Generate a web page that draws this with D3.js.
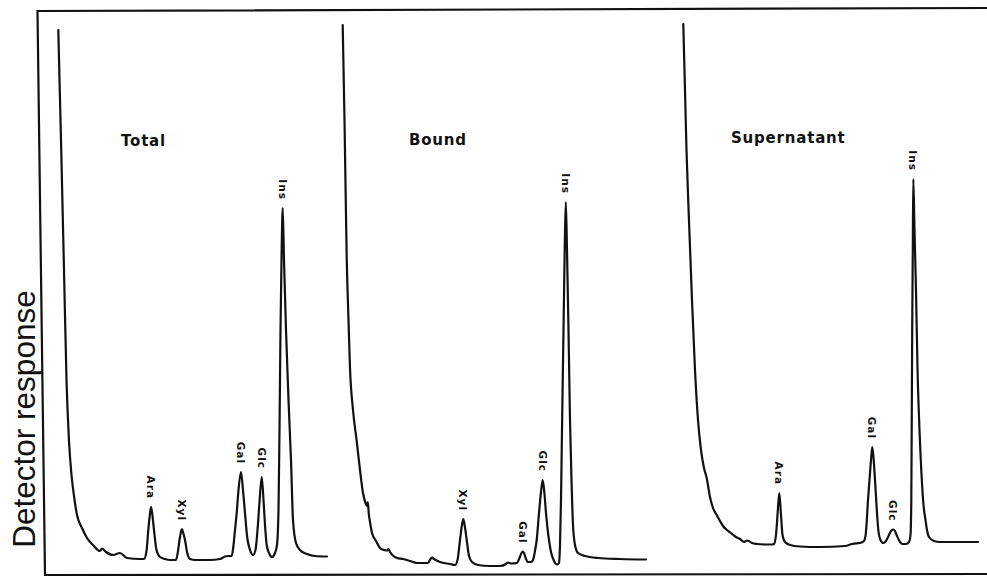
<!DOCTYPE html>
<html>
<head>
<meta charset="utf-8">
<script src="https://cdn.jsdelivr.net/npm/d3@7/dist/d3.min.js"></script>
<style>
  html, body { margin: 0; padding: 0; background: #fff; }
  svg { display: block; }
</style>
</head>
<body>
<div id="chart"></div>
<script>
// ---------- DATA (retention time in min, detector response in arbitrary units) ----------
const panelNames = ["Total", "Bound", "Supernatant"];

const totalTrace = [
  [0.03,109],[0.3,87],[0.6,61],[0.85,39],[1.1,26.8],[1.35,20],[1.6,15.8],[1.9,12],[2.4,9.4],[2.9,7.4],
  [3.5,6],[4.2,4.8],[4.4,5.3],[4.8,4.6],[5.5,4],[6.2,4.4],[6.9,3.4],[8.2,3.2],[8.6,3.2],[8.85,4.8],
  [9.03,9],[9.22,12.6],[9.3,13.6],[9.4,12.6],[9.6,9],[9.85,5],[10.2,3.6],[10.7,3.2],[11.2,3],[11.8,3],
  [12.0,4.8],[12.15,7],[12.3,8.6],[12.4,9.2],[12.5,8.6],[12.7,7],[12.9,4.6],[13.2,3.2],[13.7,3],[15.2,3],
  [16.2,3.2],[16.7,3.7],[17.0,3.8],[17.37,3.8],[17.53,5.6],[17.7,9],[17.87,12.4],[18.05,17],[18.3,20.6],
  [18.5,17],[18.7,12.4],[18.93,7.4],[19.2,5],[19.5,4],[19.75,5],[19.95,9],[20.13,14],[20.37,19.6],
  [20.55,15],[20.7,10],[20.87,6],[21.1,4.4],[21.4,3.6],[21.7,4.4],[21.9,6],[22.05,13],[22.15,29],
  [22.25,49],[22.35,63],[22.47,73.4],[22.6,63],[22.8,49],[23.05,35],[23.3,23],[23.5,11],[23.8,6.4],
  [24.2,5],[24.9,4.2],[25.7,3.8],[26.9,3.7]
];

const boundTrace = [
  [0.07,110],[0.25,91],[0.47,63.6],[0.65,51],[0.8,41.4],[1.1,33],[1.47,26.8],[1.8,21],[2.1,16.4],
  [2.35,14.4],[2.5,13.8],[2.58,14.6],[2.68,12.2],[2.8,10.6],[3.0,8.4],[3.4,6.8],[3.8,5.4],[4.2,5],
  [4.5,4.9],[4.65,5.2],[4.8,4.6],[5.5,3.4],[6.1,3.2],[6.8,2.8],[7.5,2.4],[8.6,2.4],[8.85,3.2],[9.0,3.5],
  [9.2,3.2],[9.8,2.6],[10.8,2.2],[11.3,2],[11.55,3],[11.8,7],[11.98,9.8],[12.13,11.2],[12.28,9.8],
  [12.47,7],[12.7,3.8],[13.0,2.6],[13.6,2],[14.8,1.8],[15.8,1.8],[16.4,2.2],[16.6,2.5],[16.9,2.3],
  [17.5,2.4],[17.75,3.4],[17.95,4.4],[18.07,4.7],[18.2,4.4],[18.4,3.2],[18.6,2.6],[18.9,2.6],[19.1,3],
  [19.3,4.8],[19.47,7],[19.7,12.4],[19.9,16.6],[20.07,19],[20.23,16.6],[20.4,12.4],[20.63,8],[20.9,4.6],
  [21.2,2.8],[21.5,2.1],[21.7,2.4],[21.8,6],[21.9,15],[22.0,29],[22.15,49],[22.27,65],[22.38,74.6],
  [22.5,65],[22.65,49],[22.8,31],[22.95,19],[23.1,10],[23.3,6],[23.6,4.4],[24.3,3.8],[25.6,3.4],
  [27.8,3.2],[30.4,3.1]
];

const supernatantTrace = [
  [0.03,110.2],[0.2,97],[0.35,85],[0.6,70.8],[0.9,55],[1.2,41],[1.5,31],[1.8,25],[2.1,21.4],[2.37,19.4],
  [2.7,15.6],[3.0,13.4],[3.37,12],[3.7,10.8],[4.0,9.8],[4.4,9],[4.87,8.26],[5.3,7.6],[5.7,7.2],[6.1,6.6],
  [6.4,6.9],[6.6,6.8],[6.9,6.4],[7.4,6.2],[8.2,6.1],[8.9,6.1],[9.1,6.2],[9.3,8],[9.45,12],[9.63,16.4],
  [9.8,12],[9.95,8],[10.2,6.6],[10.7,6],[11.7,5.7],[13.7,5.6],[16.2,5.8],[16.9,6.2],[17.37,6.34],
  [17.7,6.4],[18.1,6.8],[18.25,7.8],[18.35,10],[18.5,15],[18.65,19],[18.8,23],[18.93,25.6],[19.07,23],
  [19.2,19],[19.35,14],[19.53,9],[19.75,7],[20.03,6.4],[20.3,6.8],[20.6,8],[20.8,8.8],[21.0,9.1],
  [21.2,8.8],[21.4,7.8],[21.7,6.6],[21.95,6.2],[22.3,6.2],[22.6,6.6],[22.75,8],[22.83,15],[22.87,29],
  [22.92,49],[22.98,65],[23.03,79.2],[23.15,69],[23.3,57],[23.45,41.4],[23.65,29],[23.87,19.4],
  [24.05,14],[24.25,11],[24.4,9],[24.6,7.6],[25.1,6.8],[25.7,6.6],[27.2,6.6],[29.5,6.6]
];

// peak labels: [name, retention time, apex response]
const totalPeaks = [["Ara",9.3,13.6],["Xyl",12.4,9.2],["Gal",18.3,20.6],["Glc",20.37,19.6],["Ins",22.47,73.4]];
const boundPeaks = [["Xyl",12.13,11.2],["Gal",18.07,4.7],["Glc",20.07,19],["Ins",22.38,74.6]];
const supernatantPeaks = [["Ara",9.63,16.4],["Gal",18.93,25.6],["Glc",21.0,9.1],["Ins",23.03,79.2]];

const yAxisLabel = "Detector response";

// ---------- LAYOUT ----------
const W = 987, H = 577;
const panelRanges = [[58, 358], [342, 642], [683, 983]];
const titlePos = [[121, 146], [409, 145], [731, 143]];
const traces = [totalTrace, boundTrace, supernatantTrace];
const peaks = [totalPeaks, boundPeaks, supernatantPeaks];

const svg = d3.select("#chart").append("svg")
  .attr("width", W).attr("height", H)
  .attr("viewBox", `0 0 ${W} ${H}`);

const y = d3.scaleLinear().domain([0, 110]).range([575, 25]);

// frame (open on the right), slightly skewed like the scan
const frame = d3.path();
frame.moveTo(987, 8);
frame.lineTo(37.5, 11);
frame.lineTo(45, 575);
frame.lineTo(987, 574);
svg.append("path").attr("d", frame.toString())
  .attr("fill", "none").attr("stroke", "#111").attr("stroke-width", 2.2);

const line = d3.line().curve(d3.curveMonotoneX);

panelNames.forEach((name, i) => {
  const x = d3.scaleLinear().domain([0, 30]).range(panelRanges[i]);
  const g = svg.append("g");
  g.append("path")
    .datum(traces[i])
    .attr("d", line.x(d => x(d[0])).y(d => y(d[1])))
    .attr("fill", "none")
    .attr("stroke", "#111")
    .attr("stroke-width", 2.2)
    .attr("stroke-linejoin", "round")
    .attr("stroke-linecap", "round");

  g.selectAll("text.peak")
    .data(peaks[i])
    .join("text")
    .attr("class", "peak")
    .attr("transform", d => `translate(${x(d[1])},${y(d[2]) - 8}) rotate(90)`)
    .attr("text-anchor", "end")
    .attr("dominant-baseline", "central")
    .attr("font-family", "'DejaVu Sans', sans-serif")
    .attr("font-weight", "bold")
    .attr("font-size", 10.5)
    .attr("letter-spacing", 1)
    .attr("fill", "#111")
    .text(d => d[0]);

  svg.append("text")
    .attr("x", titlePos[i][0]).attr("y", titlePos[i][1])
    .attr("font-family", "'DejaVu Sans', sans-serif")
    .attr("font-weight", "bold")
    .attr("font-size", 15)
    .attr("letter-spacing", 0.8)
    .attr("fill", "#111")
    .text(name);
});

svg.append("text")
  .attr("transform", "translate(35,419) rotate(-90)")
  .attr("text-anchor", "middle")
  .attr("font-family", "'Liberation Sans', Arial, sans-serif")
  .attr("font-size", 31.5)
  .attr("fill", "#111")
  .text(yAxisLabel);
</script>
</body>
</html>
